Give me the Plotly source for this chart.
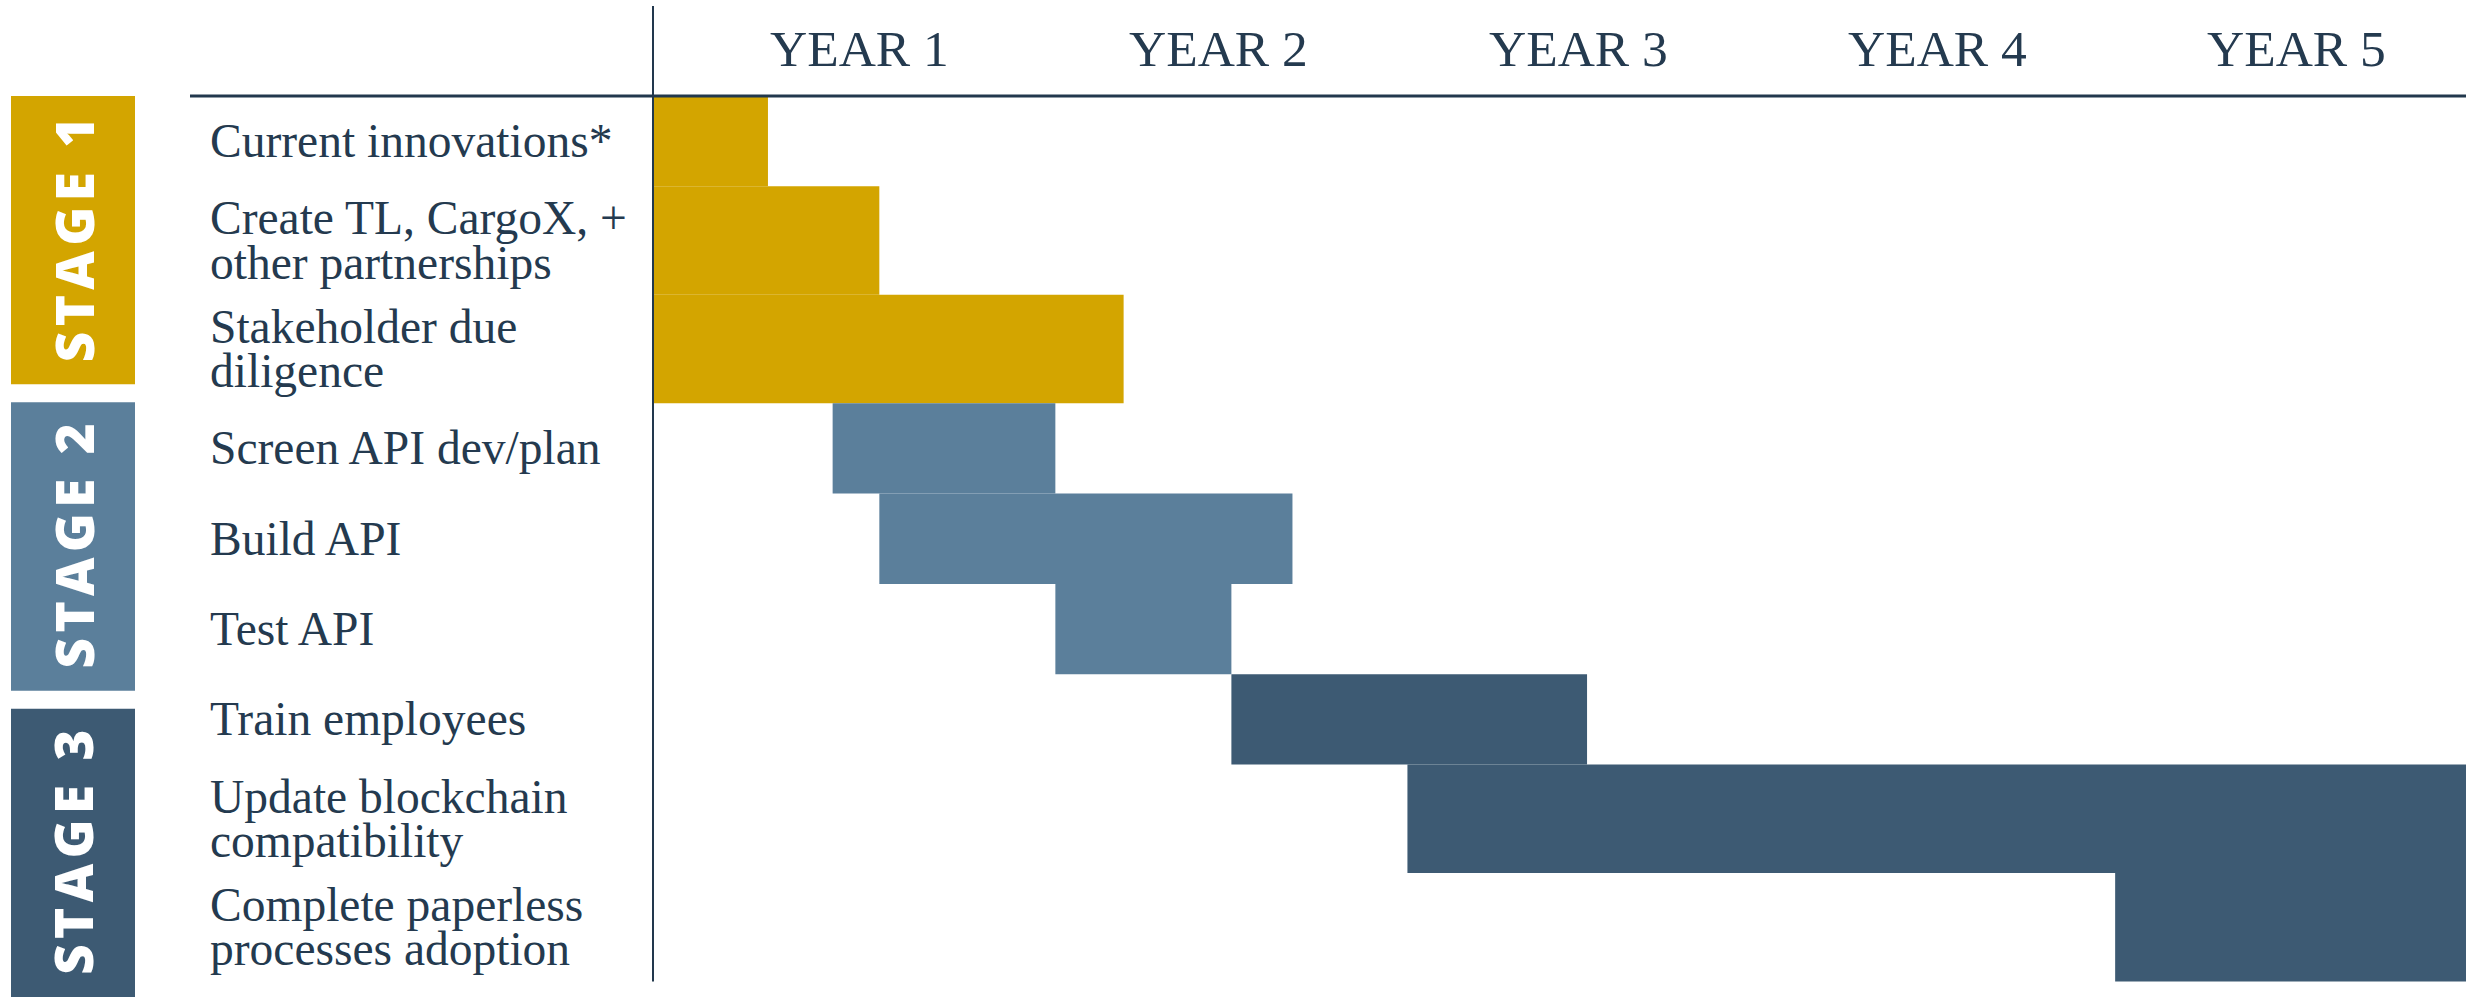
import plotly.graph_objects as go

# ---------------- data ----------------
tasks = [
    "Current innovations*",
    "Create TL, CargoX, +<br>other partnerships",
    "Stakeholder due<br>diligence",
    "Screen API dev/plan",
    "Build API",
    "Test API",
    "Train employees",
    "Update blockchain<br>compatibility",
    "Complete paperless<br>processes adoption",
]
task_stage = [1, 1, 1, 2, 2, 2, 3, 3, 3]
start_year = [0.00, 0.00, 0.00, 0.50, 0.63, 1.12, 1.61, 2.10, 4.07]
end_year = [0.32, 0.63, 1.31, 1.12, 1.78, 1.61, 2.60, 5.10, 5.10]
year_labels = ["YEAR 1", "YEAR 2", "YEAR 3", "YEAR 4", "YEAR 5"]
stage_labels = ["STAGE 1", "STAGE 2", "STAGE 3"]

# ---------------- styles ----------------
W, H = 2466, 997
M_L, M_T = 653, 96
PLOT_W, PLOT_H = W - M_L, H - M_T
PX_PER_YEAR = 359.25
PX_PER_ROW = 90.35
stage_colors = {1: "#D3A500", 2: "#5B7F9B", 3: "#3D5A73"}
TEXT = "#243A4F"
SERIF = "Liberation Serif, Times New Roman, serif"
SANS = "Open Sans, Lato, sans-serif"

x_max = PLOT_W / PX_PER_YEAR
y_max = PLOT_H / PX_PER_ROW

# row geometry derived from number of label lines
n_lines = [t.count("<br>") + 1 for t in tasks]
row_h = [1 + 0.2 * (n - 1) for n in n_lines]
row_c = []
acc = 0.0
for h in row_h:
    row_c.append(acc + h / 2)
    acc += h
rows_end = acc

fig = go.Figure()
fig.add_trace(go.Bar(
    orientation="h",
    y=row_c,
    x=[e - s for s, e in zip(start_year, end_year)],
    base=start_year,
    width=row_h,
    marker=dict(color=[stage_colors[s] for s in task_stage], line=dict(width=0)),
    hoverinfo="skip",
    showlegend=False,
))

def px_to_paper_x(px):
    return (px - M_L) / PLOT_W

def y_to_paper(y):
    return 1 - y / y_max

shapes = []
annotations = []

# stage boxes: equal thirds of the vertical space
gap = 0.2
box_h = (y_max - 2 * gap) / 3
for i, lab in enumerate(stage_labels):
    y0 = i * (box_h + gap)
    y1 = y0 + box_h
    col = stage_colors[i + 1]
    shapes.append(dict(type="rect", xref="paper", yref="paper",
                       x0=px_to_paper_x(11), x1=px_to_paper_x(135),
                       y0=y_to_paper(y1), y1=y_to_paper(y0),
                       fillcolor=col, line=dict(width=0), layer="above"))
    spaced = "\u200a".join(list(lab.replace(" ", "\u00a0")))
    annotations.append(dict(xref="paper", yref="y", x=px_to_paper_x(73), y=(y0 + y1) / 2,
                            text=spaced, textangle=-90, showarrow=False,
                            font=dict(family=SANS, size=53, color="white", weight=800),
                            xanchor="center", yanchor="middle"))

# task labels (each line separately for tight line spacing)
LINE_GAP = 44.3
for lab, c in zip(tasks, row_c):
    parts = lab.split("<br>")
    n = len(parts)
    for j, p in enumerate(parts):
        off = ((n - 1) / 2 - j) * LINE_GAP
        annotations.append(dict(xref="paper", yref="y", x=px_to_paper_x(208), y=c,
                                yshift=off, text=p, showarrow=False,
                                font=dict(family=SERIF, size=47.5, color=TEXT),
                                xanchor="left", yanchor="middle"))

# year labels
for k, lab in enumerate(year_labels):
    annotations.append(dict(xref="x", yref="paper", x=k + 0.5, y=1, yshift=48, xshift=27,
                            text=lab, showarrow=False,
                            font=dict(family=SERIF, size=51.5, color=TEXT),
                            xanchor="center", yanchor="middle"))

# header line and vertical axis line
shapes.append(dict(type="line", xref="paper", yref="paper",
                   x0=px_to_paper_x(190), x1=1, y0=1, y1=1,
                   line=dict(color="#22384D", width=3), layer="above"))
shapes.append(dict(type="line", xref="paper", yref="paper",
                   x0=0, x1=0, y0=y_to_paper(rows_end), y1=1 + 90 / PLOT_H,
                   line=dict(color="#22384D", width=2), layer="above"))

fig.update_layout(
    width=W, height=H,
    margin=dict(l=M_L, r=0, t=M_T, b=0, pad=0),
    paper_bgcolor="white", plot_bgcolor="white",
    xaxis=dict(range=[0, x_max], visible=False, fixedrange=True),
    yaxis=dict(range=[y_max, 0], visible=False, fixedrange=True),
    shapes=shapes, annotations=annotations,
    showlegend=False,
)

fig.write_html("out.html", config={"displayModeBar": False})
